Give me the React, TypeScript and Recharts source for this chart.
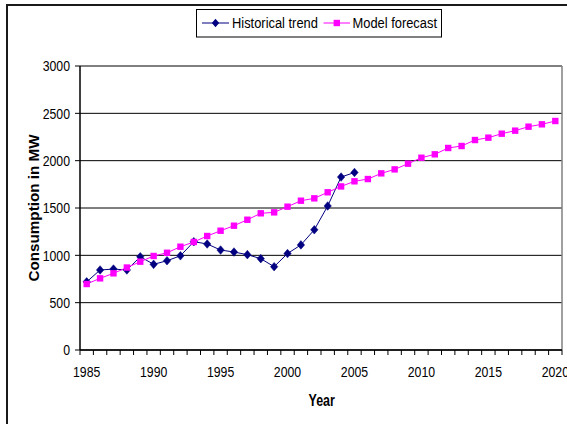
import React from 'react';
import { LineChart, Line, XAxis, YAxis, CartesianGrid, ReferenceLine, Legend } from 'recharts';

const years = [
  1985, 1986, 1987, 1988, 1989, 1990, 1991, 1992, 1993, 1994, 1995, 1996,
  1997, 1998, 1999, 2000, 2001, 2002, 2003, 2004, 2005, 2006, 2007, 2008,
  2009, 2010, 2011, 2012, 2013, 2014, 2015, 2016, 2017, 2018, 2019, 2020,
];
const historical = [
  720, 845, 855, 845, 985, 905, 943, 995, 1144, 1120, 1056, 1035, 1007, 965,
  880, 1019, 1110, 1270, 1521, 1827, 1875,
];
const forecast = [
  697, 757, 810, 871, 933, 993, 1027, 1091, 1141, 1204, 1260, 1313, 1376,
  1444, 1454, 1514, 1577, 1602, 1666, 1728, 1782, 1806, 1866, 1908, 1968,
  2031, 2067, 2134, 2155, 2218, 2243, 2285, 2317, 2359, 2384, 2419,
];
const xLabelYears = [1985, 1990, 1995, 2000, 2005, 2010, 2015, 2020];
const yTicks = [0, 500, 1000, 1500, 2000, 2500, 3000];
const seriesNames = ['Historical trend', 'Model forecast'];
const xTitle = 'Year';
const yTitle = 'Consumption in MW';

const data = years.map((y, i) => ({
  year: y,
  historical: i < historical.length ? historical[i] : null,
  forecast: forecast[i],
}));
// category boundaries (tick marks sit between categories, labels at category centres)
const boundaries = [...years.map((y) => y - 0.5), years[years.length - 1] + 0.5];
const xDomain = [boundaries[0], boundaries[boundaries.length - 1]];

const NAVY = '#000080';
const MAGENTA = '#FF00FF';
const FONT = "'Liberation Sans',Arial,sans-serif";
const SQX = 0.82; // horizontal condensing of text

const diamondPath = (cx: number, cy: number) =>
  `M${cx},${cy - 4.3} L${cx + 3.7},${cy} L${cx},${cy + 4.3} L${cx - 3.7},${cy} Z`;

const DiamondDot = (props: any) => {
  const { cx, cy, index } = props;
  if (cx == null || cy == null || props.value == null) return <g key={`d${index}`} />;
  return <path key={`d${index}`} d={diamondPath(cx, cy)} fill={NAVY} stroke={NAVY} strokeWidth={0.5} />;
};

const SquareDot = (props: any) => {
  const { cx, cy, index } = props;
  if (cx == null || cy == null) return <g key={`s${index}`} />;
  return <rect key={`s${index}`} x={cx - 3.2} y={cy - 3.2} width={6.4} height={6.4} fill={MAGENTA} />;
};

const XTick = (props: any) => {
  const { x, y, payload, width } = props;
  const halfBand = (width || 482) / (boundaries.length - 1) / 2;
  const labelYear = payload.value + 0.5;
  const showLabel = xLabelYears.includes(labelYear);
  return (
    <g>
      <line x1={x} y1={y} x2={x} y2={y + 5} stroke="#000" strokeWidth={1} />
      {showLabel && (
        <text
          transform={`translate(${x + halfBand},${y + 27}) scale(${SQX},1)`}
          textAnchor="middle"
          fontFamily={FONT}
          fontSize={15}
          fill="#000"
        >
          {labelYear}
        </text>
      )}
    </g>
  );
};

const YTick = (props: any) => {
  const { x, y, payload } = props;
  return (
    <text
      transform={`translate(${x},${y + 5.4}) scale(${SQX},1)`}
      textAnchor="end"
      fontFamily={FONT}
      fontSize={15}
      fill="#000"
    >
      {payload.value}
    </text>
  );
};

const LegendBox = () => (
  <svg width={247} height={29} style={{ display: 'block' }}>
    <rect x={0.5} y={0.5} width={245} height={27.5} fill="#fff" stroke="#000" strokeWidth={1} />
    <line x1={6} y1={14} x2={33} y2={14} stroke={NAVY} strokeWidth={1} />
    <path d={diamondPath(19.5, 14)} fill={NAVY} />
    <text transform={`translate(36,19.2) scale(0.86,1)`} fontFamily={FONT} fontSize={15} fill="#000">
      {seriesNames[0]}
    </text>
    <line x1={127.5} y1={14} x2={154} y2={14} stroke={MAGENTA} strokeWidth={1} />
    <rect x={137.6} y={10.8} width={6.4} height={6.4} fill={MAGENTA} />
    <text transform={`translate(156.5,19.2) scale(0.86,1)`} fontFamily={FONT} fontSize={15} fill="#000">
      {seriesNames[1]}
    </text>
  </svg>
);

export default function App() {
  return (
    <div
      style={{
        position: 'absolute',
        left: 0,
        top: 0,
        width: 567,
        height: 424,
        overflow: 'hidden',
        background: '#fff',
        fontFamily: FONT,
      }}
    >
      <div
        style={{
          position: 'absolute',
          left: 6,
          top: 4,
          width: 700,
          height: 600,
          border: '2px solid #1a1a1a',
          boxSizing: 'border-box',
        }}
      />
      <LineChart
        width={567}
        height={424}
        data={data}
        margin={{ top: 66, right: 5, bottom: 0, left: 0 }}
        style={{ position: 'absolute', left: 0, top: 0 }}
      >
        <CartesianGrid vertical={false} stroke="#000" strokeWidth={1} horizontalValues={yTicks} />
        <XAxis
          dataKey="year"
          type="number"
          domain={xDomain}
          ticks={boundaries}
          interval={0}
          height={74}
          axisLine={{ stroke: '#000', strokeWidth: 1.5 }}
          tickLine={false}
          tickSize={0}
          tickMargin={0}
          tick={<XTick />}
          allowDataOverflow
          label={{
            content: () => (
              <text
                transform={`translate(321.7,405.7) scale(0.78,1)`}
                textAnchor="middle"
                fontFamily={FONT}
                fontSize={16}
                fontWeight="bold"
                fill="#000"
              >
                {xTitle}
              </text>
            ),
          }}
        />
        <YAxis
          width={80}
          domain={[0, 3000]}
          ticks={yTicks}
          interval={0}
          tickSize={5}
          tickMargin={5}
          axisLine={{ stroke: '#000', strokeWidth: 1.5 }}
          tickLine={{ stroke: '#000' }}
          tick={<YTick />}
          label={{
            content: () => (
              <text
                transform={`translate(38.5,208) rotate(-90)`}
                textAnchor="middle"
                fontFamily={FONT}
                fontSize={15.5}
                fontWeight="bold"
                fill="#000"
                textLength={147}
                lengthAdjust="spacingAndGlyphs"
              >
                {yTitle}
              </text>
            ),
          }}
        />
        <ReferenceLine x={xDomain[1]} stroke="#808080" strokeWidth={1.5} ifOverflow="visible" />
        <Legend
          layout="horizontal"
          verticalAlign="middle"
          align="center"
          content={() => <LegendBox />}
          wrapperStyle={{ position: 'absolute', left: 196, top: 9, width: 'auto' }}
        />
        <Line
          type="linear"
          dataKey="historical"
          name={seriesNames[0]}
          stroke={NAVY}
          strokeWidth={1}
          dot={(p: any) => <DiamondDot {...p} />}
          activeDot={false}
          connectNulls={false}
          isAnimationActive={false}
        />
        <Line
          type="linear"
          dataKey="forecast"
          name={seriesNames[1]}
          stroke={MAGENTA}
          strokeWidth={1}
          dot={(p: any) => <SquareDot {...p} />}
          activeDot={false}
          isAnimationActive={false}
        />
      </LineChart>
    </div>
  );
}
